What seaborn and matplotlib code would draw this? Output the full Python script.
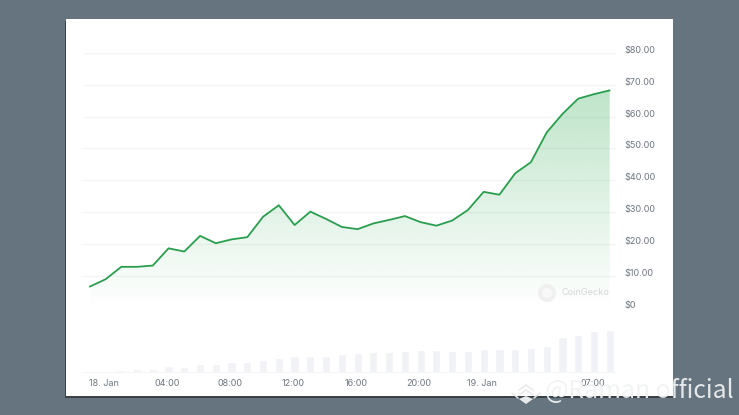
import numpy as np
import matplotlib
matplotlib.use('Agg')
import matplotlib.pyplot as plt
import matplotlib.transforms as mtrans
import seaborn as sns
from matplotlib.patches import Rectangle, Circle, Polygon

# values, one point per hour
hours = np.arange(34) - 0.9
price = [6.7, 9.0, 12.9, 12.9, 13.3, 18.7, 17.7, 22.6, 20.3, 21.5, 22.2, 28.6, 32.2, 26.0, 30.2,
         27.9, 25.4, 24.7, 26.5, 27.6, 28.8, 26.9, 25.8, 27.4, 30.7, 36.4, 35.5, 42.2, 45.7,
         55.0, 60.8, 65.6, 67.0, 68.2]
volume = [0, 1, 2, 3, 3, 6, 5, 8, 8, 10, 10, 12, 14, 16, 16, 16, 18, 19, 20, 20,
          21, 22, 22, 21, 21, 23, 23, 23, 24, 26, 35, 37, 41, 42]
price_ticks = [0, 10, 20, 30, 40, 50, 60, 70, 80]
price_labels = ['$0', '$10.00', '$20.00', '$30.00', '$40.00', '$50.00', '$60.00', '$70.00', '$80.00']
time_ticks = [0, 4, 8, 12, 16, 20, 24, 31]
time_labels = ['18. Jan', '04:00', '08:00', '12:00', '16:00', '20:00', '19. Jan', '07:00']

W, H = 739, 415
sns.set_theme(style='white')
plt.rcParams['font.family'] = ['Inter', 'DejaVu Sans']


def px_axes(fig, left, top, right, bottom, **kw):
    return fig.add_axes([left / W, 1 - bottom / H, (right - left) / W, (bottom - top) / H], **kw)


fig = plt.figure(figsize=(W / 100, H / 100), dpi=100, facecolor='#65747e')

# card behind the chart
bg = px_axes(fig, 0, 0, W, H, zorder=0)
bg.set_xlim(0, W)
bg.set_ylim(H, 0)
bg.axis('off')
bg.add_patch(Rectangle((64.5, 21), 608, 377, color='#3a4248', lw=0))
bg.add_patch(Rectangle((66, 19), 607, 377, color='white', lw=0))

# price panel
ax = px_axes(fig, 83, 52.7, 616, 308, zorder=1)
ax.patch.set_alpha(0)
sns.lineplot(x=hours, y=price, ax=ax, color='#2a9e4e', linewidth=1.3, zorder=3)

grad = np.zeros((256, 1, 4))
grad[..., :3] = matplotlib.colors.to_rgb('#22a447')
grad[:, 0, 3] = np.linspace(0.3, 0.0, 256)
im = ax.imshow(grad, extent=(hours[0], hours[-1], 0, 70), aspect='auto', origin='upper', zorder=1)
poly = ax.fill_between(hours, price, 0, color='none', lw=0)
im.set_clip_path(poly.get_paths()[0], transform=ax.transData)

ax.set_xlim(-1.33, 32.5)
ax.set_ylim(0, 80)
ax.set_yticks(price_ticks)
ax.set_yticklabels(price_labels, fontsize=6.5, color='#6f7680')
ax.yaxis.tick_right()
ax.tick_params(axis='y', length=0, pad=6)
# labels sit a little above their gridlines
for lab in ax.get_yticklabels():
    lab.set_transform(lab.get_transform() + mtrans.ScaledTranslation(0, 3.5 / 100, fig.dpi_scale_trans))
ax.set_xticks([])
ax.set_xlabel('')
ax.grid(axis='y', color='#f3f5f6', linewidth=0.9)
ax.set_axisbelow(True)
sns.despine(ax=ax, left=True, right=True, top=True, bottom=True)

# volume panel
vol = px_axes(fig, 83, 330, 616, 372, zorder=1)
vol.patch.set_alpha(0)
sns.barplot(x=hours, y=volume, ax=vol, native_scale=True, color='#f1f2f6', width=0.52,
            saturation=1)
vol.set_xlim(-1.33, 32.5)
vol.set_ylim(0, 42)
vol.set_yticks([])
vol.set_ylabel('')
vol.set_xticks(time_ticks)
vol.set_xticklabels(time_labels, fontsize=6.5, color='#6f7680')
vol.tick_params(axis='x', length=0, pad=5)
sns.despine(ax=vol, left=True, right=True, top=True)
vol.spines['bottom'].set_color('#f5f6f7')
vol.spines['bottom'].set_linewidth(0.8)

# watermarks on top
top = px_axes(fig, 0, 0, W, H, zorder=3)
top.patch.set_alpha(0)
top.set_xlim(0, W)
top.set_ylim(H, 0)
top.axis('off')
top.add_patch(Circle((547, 293), 9, color='#f0f0f0', lw=0))
top.add_patch(Circle((547, 293), 5, color='#f8f8f8', lw=0))
top.text(561, 292.5, 'CoinGecko', fontsize=6.6, color='#d4d6d8', va='center', ha='left')
top.text(545, 391, '@Raman official', fontsize=17.8, color='#f1f3f4', va='center', ha='left',
         family=['Noto Sans CJK SC', 'DejaVu Sans'], alpha=0.92)

# logo
for y in (390, 395):
    top.plot([519, 526, 533], [y, y - 5, y], color='#e8eaeb', lw=1.1)
top.plot([512, 518], [393, 398], color='#e8eaeb', lw=1.1)
top.plot([534, 540], [398, 393], color='#e8eaeb', lw=1.1)
top.add_patch(Polygon([(526, 396), (533, 399), (526, 404), (519, 399)], color='#e8eaeb', lw=0))

fig.savefig('out.png', dpi=100, facecolor=fig.get_facecolor())
